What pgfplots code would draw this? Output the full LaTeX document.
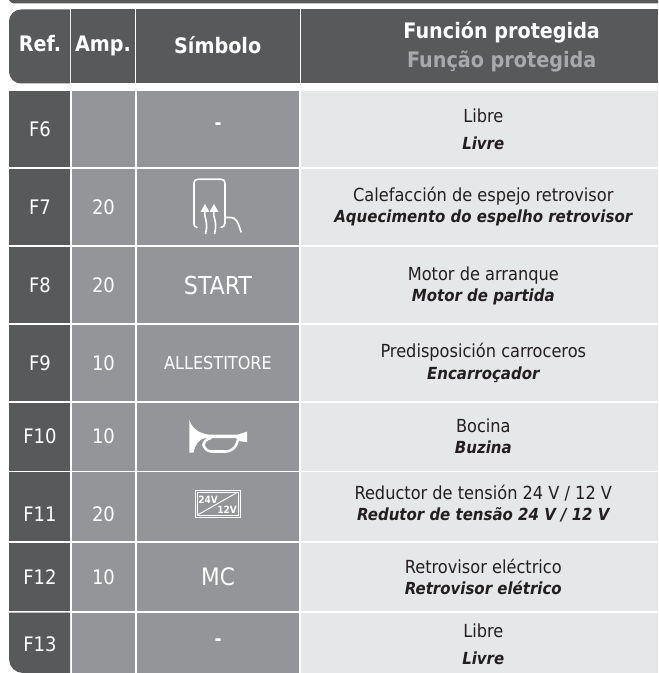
\documentclass[border=0pt]{standalone}
\usepackage{pgfplots}
\pgfplotsset{compat=1.18}
\usepackage{fontspec}
\setmainfont{DejaVu Sans Condensed}
\definecolor{dk}{HTML}{58595B}
\definecolor{md}{HTML}{939598}
\definecolor{lt}{HTML}{E6E7E8}
\definecolor{tx}{HTML}{231F20}
\definecolor{gy}{HTML}{A7A9AC}
\newcommand{\cell}[5]{\addplot[fill=#5,draw=none,forget plot] coordinates {(#1,#2) (#3,#2) (#3,#4) (#1,#4)} --cycle;}
\newcommand{\lab}[3]{\node[anchor=base,text=white,font=\fontsize{15pt}{15pt}\selectfont] at (#1,#2) {#3};}
\newcommand{\row}[5]{%
 \cell{#1}{#2}{70}{#3}{dk}\cell{71.5}{#2}{135}{#3}{md}\cell{137}{#2}{299}{#3}{md}\cell{300.5}{#2}{658}{#3}{lt}%
 \lab{40}{#4}{#5}}
\newcommand{\amp}[2]{\lab{103.5}{#1}{#2}}
\newcommand{\sym}[3]{\node[anchor=base,text=white,font=\fontsize{#2}{#2}\selectfont] at (218,#1) {#3};}
\newcommand{\fn}[4]{\node[anchor=base,text=tx,font=\fontsize{13.5pt}{14pt}\selectfont] at (483.3,#1) {#3};
 \node[anchor=base,text=tx,font=\fontsize{12.5pt}{14pt}\selectfont\bfseries\itshape] at (483.3,#2) {#4};}
\newcommand{\hd}[4]{\node[anchor=base,text=#1,font=\fontsize{16pt}{16pt}\selectfont\bfseries] at (#2,#3) {#4};}
\begin{document}
\begin{tikzpicture}
\begin{axis}[hide axis,scale only axis,width=493.5pt,height=504.75pt,
  xmin=0,xmax=658,ymin=0,ymax=673,y dir=reverse,clip=true]
% full page ground
\addplot[fill=white,draw=none,forget plot] coordinates {(0,0) (658,0) (658,673) (0,673)} --cycle;
% top band
\addplot[fill=dk,draw=none,forget plot] coordinates {(9,0) (658,0) (658,3.5) (14,3.5) (11,2.5)} --cycle;
% header
\addplot[fill=dk,draw=none,forget plot] coordinates {(9,21.5) (9.9,16.9) (12.5,13) (16.4,10.4) (21,9.5) (70,9.5) (70,83.5) (21,83.5) (16.4,82.6) (12.5,80) (9.9,76.1) (9,71.5)} --cycle;
\cell{71}{9.5}{134.5}{83.5}{dk}
\cell{135.5}{9.5}{299.5}{83.5}{dk}
\cell{300.5}{9.5}{658}{83.5}{dk}
\hd{white}{40}{52}{Ref.}
\hd{white}{103}{52}{Amp.}
\hd{white}{217.7}{54}{Símbolo}
\hd{white}{501.7}{38.3}{Función protegida}
\hd{gy}{501.7}{67.3}{Função protegida}
% rows
\row{9}{91.5}{167}{136.7}{F6}
\row{9}{169}{245}{215}{F7}
\row{9}{247}{323}{292.7}{F8}
\row{9}{325}{401}{370}{F9}
\row{9}{402.5}{470.5}{443.3}{F10}
\row{9}{472}{541}{521.7}{F11}
\row{9}{542.5}{611}{584}{F12}
% last row with its rounded corner
\addplot[fill=dk,draw=none,forget plot] coordinates {(9,612.5) (70,612.5) (70,673) (23,673) (17.6,671.9) (13.1,668.9) (10.1,664.4) (9,659)} --cycle;
\cell{71.5}{612.5}{135}{673}{md}
\cell{137}{612.5}{299}{673}{md}
\cell{300.5}{612.5}{658}{673}{lt}
\lab{40}{651.7}{F13}
% amps
\amp{215}{20}\amp{292.7}{20}\amp{370}{10}\amp{443.3}{10}\amp{521.7}{20}\amp{584}{10}
% symbols
\node[anchor=center,text=white,font=\fontsize{14pt}{14pt}\selectfont\bfseries] at (218,126.5) {-};
\node[anchor=center,text=white,font=\fontsize{14pt}{14pt}\selectfont\bfseries] at (218,641.7) {-};
\sym{294}{18.5pt}{START}
\sym{369}{13.4pt}{ALLESTITORE}
\sym{585}{18pt}{MC}
% mirror icon
\draw[white,line width=1.2pt,line cap=round] (197,227.5) .. controls (195,227) and (194,226) .. (194,224) -- (194,183) .. controls (194,180.5) and (195.5,179.3) .. (198,179.3) -- (221,179.3) .. controls (223.5,179.3) and (225,180.5) .. (225,183) -- (225,223) .. controls (225,226) and (223,227) .. (221,227.5);
\draw[white,line width=1.2pt,line cap=round] (225,217.5) -- (231,217.5) .. controls (236,217.5) and (238,222) .. (241,232);
\draw[white,line width=1.2pt] (205,210) .. controls (203,217) and (209,221) .. (205.5,234);
\draw[white,line width=1.2pt] (214,210) .. controls (212,217) and (218,221) .. (214.5,234);
\fill[white] (205,204) -- (209.5,212) -- (200.5,212) -- cycle;
\fill[white] (214,204) -- (218.5,212) -- (209.5,212) -- cycle;
% horn icon
\fill[white] (189.3,420) .. controls (192,428) and (198,433) .. (208,434.5) -- (238,434.5) -- (247,431.5) -- (247,442) -- (238,441) -- (236,438) -- (205,438) .. controls (199,439) and (195,445) .. (193.5,452.5) -- (189.3,452.5) -- cycle;
\draw[white,line width=1.9pt,rounded corners=6pt] (210,438) -- (203.5,438) -- (203.5,451.5) -- (234,451.5) -- (238,440);
% 24V/12V icon
\draw[white,line width=0.7pt] (195,490) rectangle (240,517.3);
\draw[white,line width=0.7pt] (197,492) rectangle (238,515.3);
\draw[white,line width=0.7pt] (197,515.3) -- (238,492);
\node[anchor=base,text=white,inner sep=0pt,font=\fontsize{7.5pt}{8pt}\selectfont\bfseries] at (208,503) {24V};
\node[anchor=base,text=white,inner sep=0pt,font=\fontsize{7.5pt}{8pt}\selectfont\bfseries] at (227,513) {12V};
% functions
\fn{122.7}{150}{Libre}{Livre}
\fn{201.7}{223}{Calefacción de espejo retrovisor}{Aquecimento do espelho retrovisor}
\fn{280}{301.7}{Motor de arranque}{Motor de partida}
\fn{357.3}{379.3}{Predisposición carroceros}{Encarroçador}
\fn{432}{453}{Bocina}{Buzina}
\fn{499}{520}{Reductor de tensión 24 V / 12 V}{Redutor de tensão 24 V / 12 V}
\fn{573.3}{594}{Retrovisor eléctrico}{Retrovisor elétrico}
\fn{637}{664}{Libre}{Livre}
\end{axis}
\end{tikzpicture}
\end{document}
